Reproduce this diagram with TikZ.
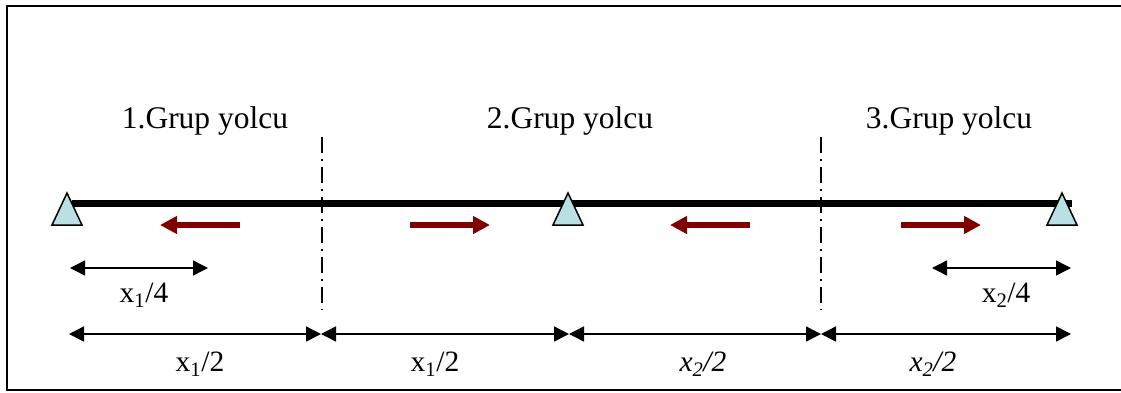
\documentclass[tikz,border=0pt]{standalone}
\usepackage{fontspec}
\setmainfont{Liberation Serif}
\usetikzlibrary{arrows.meta,positioning,calc}
\definecolor{suppblue}{RGB}{185,224,228}
\definecolor{flowred}{RGB}{128,0,0}

\begin{document}
\begin{tikzpicture}[x=1pt,y=-1pt,font=\fontsize{29.5}{32}\selectfont,
   beam/.style={line width=7pt},
   supp/.style={draw,line width=1.5pt,fill=suppblue,line join=miter},
   flow/.style={flowred,line width=6pt,-{Triangle[length=17pt,width=17pt]}},
   dim/.style={line width=1.5pt,{Triangle[length=15pt,width=15pt]}-{Triangle[length=15pt,width=15pt]}},
   axis/.style={line width=1.2pt,dash pattern=on 16pt off 6pt on 2pt off 6pt},
   grp/.style={font=\fontsize{31.5}{34}\selectfont}]
  \useasboundingbox (0,0) rectangle (1121,392);
  \draw[line width=2pt] (7,6) rectangle (1130,390);
  % supports on the beam
  \coordinate (a) at (67,193);
  \coordinate (b) at (568,193);
  \coordinate (c) at (1062,193);
  \draw[beam] (72,203.5) -- (1072,203.5);
  \foreach \s in {a,b,c}
    \draw[supp] (\s) -- ++(15,32) -- ++(-30,0) -- cycle;
  % group borders
  \coordinate (g1) at (322,137); \coordinate (g1e) at (322,310);
  \coordinate (g2) at (821,137); \coordinate (g2e) at (821,310);
  \draw[axis] (g1) -- (g1e);
  \draw[axis] (g2) -- (g2e);
  \node[grp] (t1) at (205,121) {1.Grup yolcu};
  \node[grp] (t2) at (570,121) {2.Grup yolcu};
  \node[grp] (t3) at (949,121) {3.Grup yolcu};
  % walking directions
  \draw[flow] (240,225) -- (160,225);
  \draw[flow] (410,225) -- (490,225);
  \draw[flow] (750,225) -- (670,225);
  \draw[flow] (901,225) -- (981,225);
  % dimensions
  \coordinate (q1) at (70,268); \coordinate (q2) at (208,268);
  \coordinate (q3) at (932,268); \coordinate (q4) at (1071,268);
  \draw[dim] (q1) -- (q2);
  \draw[dim] (q3) -- (q4);
  \node (l1) at (144,295) {x\textsubscript{1}/4};
  \node (l2) at (1006,295) {x\textsubscript{2}/4};
  \coordinate (p0) at (69,334);
  \coordinate (p1) at (321,334);
  \coordinate (p2) at (569,334);
  \coordinate (p3) at (821,334);
  \coordinate (p4) at (1071,334);
  \draw[dim] (p0) -- (p1);
  \draw[dim] (p1) -- (p2);
  \draw[dim] (p2) -- (p3);
  \draw[dim] (p3) -- (p4);
  \node (m1) at (200,364) {x\textsubscript{1}/2};
  \node (m2) at (435,364) {x\textsubscript{1}/2};
  \node (m3) at (703,364) {\textit{x\textsubscript{2}/2}};
  \node (m4) at (933,364) {\textit{x\textsubscript{2}/2}};
\end{tikzpicture}
\end{document}
